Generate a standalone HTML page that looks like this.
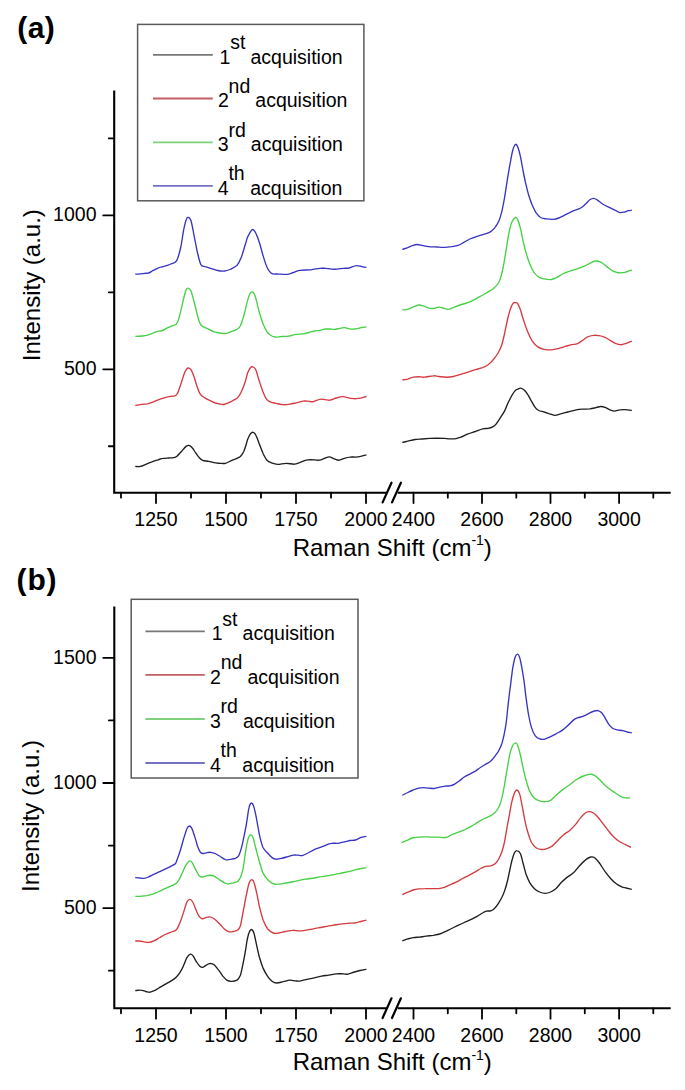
<!DOCTYPE html>
<html><head><meta charset="utf-8"><style>
html,body{margin:0;padding:0;background:#fff;width:685px;height:1090px;overflow:hidden}
svg{display:block;position:absolute;left:0;top:0}
text{font-family:"Liberation Sans",sans-serif}
</style></head><body>
<svg width="685" height="1090" viewBox="0 0 685 1090" font-family='"Liberation Sans", sans-serif' fill="#000">
<text x="17.2" y="37.8" font-size="30" font-weight="bold" letter-spacing="0.5">(a)</text>
<text x="16.6" y="590.3" font-size="30" font-weight="bold" letter-spacing="0.8">(b)</text>
<path d="M114.2 90.6V492.7H386.5M397.7 492.7H670.7" stroke="#000" stroke-width="2.1" fill="none"/>
<path d="M382.6 502.4L391.5 482.7M392.0 502.4L400.9 482.7" stroke="#000" stroke-width="2.2" stroke-linecap="round" fill="none"/>
<path d="M121.0 492.7V497.7M156.0 492.7V503.09999999999997M191.0 492.7V497.7M226.0 492.7V503.09999999999997M261.0 492.7V497.7M296.0 492.7V503.09999999999997M331.0 492.7V497.7M366.0 492.7V503.09999999999997M413.5 492.7V503.09999999999997M447.8 492.7V497.7M482.0 492.7V503.09999999999997M516.3 492.7V497.7M550.5 492.7V503.09999999999997M584.8 492.7V497.7M619.1 492.7V503.09999999999997M653.3 492.7V497.7M114.2 138.45H108.8M114.2 215.4H103.2M114.2 292.35H108.8M114.2 369.3H103.2M114.2 446.25H108.8" stroke="#000" stroke-width="1.8" stroke-linecap="round" fill="none"/>
<text x="156.0" y="525.5" text-anchor="middle" font-size="19.5">1250</text>
<text x="226.0" y="525.5" text-anchor="middle" font-size="19.5">1500</text>
<text x="296.0" y="525.5" text-anchor="middle" font-size="19.5">1750</text>
<text x="366.0" y="525.5" text-anchor="middle" font-size="19.5">2000</text>
<text x="413.5" y="525.5" text-anchor="middle" font-size="19.5">2400</text>
<text x="482.0" y="525.5" text-anchor="middle" font-size="19.5">2600</text>
<text x="550.5" y="525.5" text-anchor="middle" font-size="19.5">2800</text>
<text x="619.1" y="525.5" text-anchor="middle" font-size="19.5">3000</text>
<text x="96.5" y="221.20" text-anchor="end" font-size="19.5">1000</text>
<text x="96.5" y="375.10" text-anchor="end" font-size="19.5">500</text>
<text x="292.7" y="555.6" font-size="24">Raman Shift (cm<tspan font-size="14" dy="-10.5">-1</tspan><tspan dy="10.5">)</tspan></text>
<text transform="translate(40.3 285.2) rotate(-90)" text-anchor="middle" font-size="24">Intensity (a.u.)</text>
<rect x="137.6" y="24.4" width="226.29999999999998" height="176.4" fill="none" stroke="#5a5a5a" stroke-width="1.5"/>
<path d="M153 54.9H212.8" stroke="#777777" stroke-width="1.8"/>
<text x="219.6" y="63.7" font-size="19.5">1</text>
<text x="230.2" y="49.300000000000004" font-size="19.5">st</text>
<text x="250.5" y="63.7" font-size="19.5">acquisition</text>
<path d="M153 98.5H212.8" stroke="#c25e62" stroke-width="1.8"/>
<text x="218" y="107.3" font-size="19.5">2</text>
<text x="228.6" y="92.89999999999999" font-size="19.5">nd</text>
<text x="255.3" y="107.3" font-size="19.5">acquisition</text>
<path d="M153 142.4H212.8" stroke="#7ed27e" stroke-width="1.8"/>
<text x="217.8" y="151.20000000000002" font-size="19.5">3</text>
<text x="228.4" y="136.8" font-size="19.5">rd</text>
<text x="250.8" y="151.20000000000002" font-size="19.5">acquisition</text>
<path d="M153 185.9H212.8" stroke="#7470c4" stroke-width="1.8"/>
<text x="217.8" y="194.70000000000002" font-size="19.5">4</text>
<text x="228.4" y="180.3" font-size="19.5">th</text>
<text x="250.2" y="194.70000000000002" font-size="19.5">acquisition</text>
<path d="M135.26 274.20C136.1 274.1 138.3 274.1 140.5 273.8C142.7 273.6 146.4 273.5 148.4 273.0C150.4 272.4 151.2 271.5 152.8 270.7C154.4 269.9 156.1 268.8 158.0 268.1C159.9 267.3 162.3 266.9 164.2 266.3C166.1 265.7 167.7 265.2 169.4 264.6C171.2 263.9 173.4 263.3 174.7 262.5C176.0 261.6 176.3 261.9 177.3 259.3C178.3 256.7 179.8 251.7 180.8 247.0C181.8 242.4 182.6 235.8 183.4 231.3C184.3 226.8 185.2 222.2 186.1 219.9C186.9 217.6 187.5 217.1 188.3 217.3C189.2 217.4 190.0 217.8 191.0 220.8C191.9 223.7 192.9 229.5 193.9 234.8C195.0 240.0 196.3 247.3 197.4 252.3C198.6 257.3 199.6 262.2 200.9 264.6C202.3 267.0 203.4 265.9 205.3 266.7C207.2 267.4 210.3 268.3 212.3 268.9C214.4 269.6 215.5 270.2 217.6 270.5C219.6 270.9 222.6 271.2 224.6 271.0C226.6 270.9 227.8 270.4 229.9 269.5C231.9 268.5 235.0 267.4 236.9 265.4C238.8 263.5 239.8 261.2 241.2 257.6C242.7 253.9 244.5 247.0 245.6 243.5C246.7 240.1 246.6 239.3 247.7 236.9C248.9 234.6 250.9 230.2 252.3 229.6C253.7 229.0 254.7 231.0 255.9 233.3C257.2 235.6 258.4 239.5 259.6 243.3C260.8 247.1 262.0 252.1 263.2 256.1C264.5 260.0 265.5 264.2 266.9 267.0C268.3 269.9 269.6 272.3 271.5 273.4C273.3 274.6 275.1 273.8 277.8 274.0C280.6 274.1 285.3 274.6 287.9 274.3C290.5 274.1 291.4 273.2 293.4 272.5C295.3 271.8 296.9 270.8 299.7 270.3C302.6 269.9 307.3 270.1 310.7 269.8C314.0 269.4 317.4 268.6 319.8 268.3C322.3 268.1 322.9 268.2 325.3 268.3C327.7 268.5 331.4 269.2 334.4 269.2C337.5 269.2 341.1 268.5 343.5 268.3C346.0 268.1 346.9 268.4 349.0 268.0C351.1 267.5 354.2 265.8 356.3 265.6C358.4 265.4 360.1 266.4 361.8 266.7C363.5 267.0 365.6 267.3 366.4 267.4" stroke="#3834c2" stroke-width="1.35" fill="none" stroke-linejoin="round"/>
<path d="M135.26 336.31C136.4 336.3 140.2 336.2 142.3 336.0C144.3 335.8 145.8 335.6 147.5 335.1C149.3 334.6 151.2 333.8 152.8 333.2C154.4 332.5 155.5 331.8 157.2 331.4C158.8 331.0 160.8 331.1 162.4 330.5C164.0 330.0 165.2 328.9 166.8 328.1C168.4 327.3 170.5 326.4 172.0 325.8C173.6 325.2 174.9 325.3 175.9 324.4C176.9 323.5 177.4 322.8 178.2 320.5C179.0 318.3 179.9 314.4 180.8 310.9C181.7 307.4 182.6 303.0 183.4 299.5C184.3 296.0 185.2 291.8 186.1 289.9C186.9 288.0 187.5 287.9 188.3 288.1C189.2 288.3 190.0 288.9 191.0 291.1C191.9 293.3 193.0 297.8 193.9 301.3C194.9 304.7 195.7 308.4 196.6 311.8C197.4 315.1 198.3 319.1 199.2 321.4C200.1 323.8 200.5 324.6 201.8 325.8C203.1 327.0 205.0 327.4 207.1 328.4C209.1 329.5 211.8 331.1 214.1 331.9C216.4 332.7 219.1 332.9 221.1 333.2C223.1 333.4 224.6 333.6 226.4 333.3C228.1 333.0 229.9 332.1 231.6 331.4C233.4 330.7 235.4 330.2 236.9 329.3C238.3 328.4 239.2 328.1 240.4 325.8C241.5 323.5 242.7 319.5 243.9 315.3C245.1 311.1 246.5 304.1 247.6 300.4C248.6 296.8 249.3 294.7 250.1 293.2C250.9 291.8 251.6 291.8 252.3 292.0C253.0 292.1 253.7 292.4 254.5 294.2C255.2 295.9 256.0 299.2 256.9 302.4C257.7 305.6 258.5 309.7 259.6 313.3C260.7 317.0 262.0 321.2 263.2 324.3C264.5 327.3 265.7 329.7 266.9 331.6C268.1 333.4 269.2 334.3 270.5 335.2C271.9 336.1 273.3 336.8 275.1 337.0C276.9 337.3 279.2 336.6 281.5 336.5C283.8 336.3 286.4 336.5 288.8 336.1C291.2 335.8 293.7 334.7 296.1 334.3C298.5 333.9 301.3 334.2 303.4 333.9C305.5 333.6 307.0 333.0 308.9 332.5C310.7 332.0 312.5 331.4 314.3 331.0C316.2 330.7 318.0 330.6 319.8 330.3C321.6 330.0 323.6 329.3 325.3 329.0C327.0 328.8 328.3 328.8 329.9 328.8C331.4 328.9 332.7 329.5 334.4 329.4C336.1 329.3 338.2 328.6 339.9 328.3C341.6 328.0 342.9 327.6 344.5 327.7C346.0 327.8 347.3 328.6 349.0 328.8C350.7 329.0 352.7 329.2 354.5 329.0C356.3 328.9 358.0 328.3 360.0 327.9C361.9 327.6 365.3 327.0 366.4 326.8" stroke="#46d046" stroke-width="1.35" fill="none" stroke-linejoin="round"/>
<path d="M135.26 405.53C136.3 405.3 139.3 404.6 141.4 404.3C143.4 404.0 145.6 404.1 147.5 403.8C149.4 403.4 150.9 402.9 152.8 402.2C154.7 401.5 156.9 400.3 158.9 399.6C160.9 398.8 163.1 398.2 165.0 397.6C166.9 397.1 168.7 396.7 170.3 396.4C171.9 396.1 173.5 396.3 174.7 395.9C175.8 395.5 176.3 395.8 177.3 393.8C178.3 391.8 179.6 387.5 180.8 384.2C182.0 380.8 183.3 376.2 184.3 373.6C185.3 371.1 186.2 369.7 186.9 368.7C187.7 367.8 188.0 367.9 188.7 368.0C189.4 368.2 190.1 368.2 191.0 369.6C191.8 371.0 193.0 373.7 193.9 376.3C194.9 378.8 195.5 382.1 196.6 385.0C197.6 388.0 198.8 391.7 200.1 393.8C201.4 395.9 202.7 396.5 204.5 397.6C206.2 398.8 208.5 399.8 210.6 400.8C212.6 401.8 214.7 402.8 216.7 403.4C218.8 404.0 221.1 404.5 222.8 404.5C224.6 404.5 225.6 404.0 227.2 403.4C228.8 402.8 230.7 401.8 232.5 400.8C234.2 399.8 236.3 399.1 237.7 397.6C239.2 396.2 240.1 394.4 241.2 392.0C242.4 389.6 243.7 386.5 244.7 383.3C245.8 380.1 246.8 375.4 247.7 372.8C248.7 370.2 249.6 368.7 250.5 367.7C251.4 366.7 252.3 366.6 253.2 367.0C254.1 367.4 255.0 368.0 255.9 370.1C256.9 372.1 257.6 375.9 258.7 379.2C259.8 382.5 261.1 387.0 262.3 390.1C263.6 393.3 264.8 396.4 266.0 398.4C267.2 400.3 268.0 400.8 269.6 401.6C271.3 402.5 273.7 402.8 276.0 403.3C278.3 403.8 281.0 404.6 283.3 404.7C285.6 404.9 287.6 404.5 289.7 404.2C291.8 403.9 293.8 403.4 296.1 402.9C298.4 402.4 301.3 401.4 303.4 401.1C305.5 400.8 307.2 401.2 308.9 401.3C310.5 401.4 311.6 402.0 313.4 401.6C315.3 401.3 317.8 399.6 319.8 399.3C321.8 398.9 323.6 399.5 325.3 399.6C327.0 399.8 328.0 400.5 329.9 400.2C331.7 399.9 334.3 398.6 336.2 398.0C338.2 397.4 340.2 396.9 341.7 396.7C343.2 396.6 343.8 396.8 345.4 397.1C346.9 397.4 349.0 398.1 350.8 398.4C352.7 398.6 354.5 398.8 356.3 398.7C358.1 398.6 360.1 398.2 361.8 397.8C363.5 397.4 365.6 396.7 366.4 396.5" stroke="#d43a40" stroke-width="1.35" fill="none" stroke-linejoin="round"/>
<path d="M135.26 466.41C136.1 466.4 138.8 466.8 140.5 466.4C142.3 466.1 143.9 465.1 145.8 464.3C147.7 463.5 149.9 462.6 151.9 461.9C153.9 461.1 156.1 460.3 158.0 459.8C159.9 459.2 161.5 458.6 163.3 458.4C165.0 458.1 166.8 458.1 168.5 458.0C170.3 457.9 172.3 458.0 173.8 457.6C175.3 457.3 176.0 457.0 177.3 455.9C178.6 454.8 180.2 452.7 181.7 451.2C183.1 449.6 184.8 447.4 186.1 446.4C187.3 445.5 188.0 445.2 189.0 445.4C190.1 445.6 191.1 446.4 192.2 447.7C193.3 448.9 194.5 451.3 195.7 452.9C196.9 454.6 198.0 456.4 199.2 457.6C200.4 458.9 201.1 459.7 202.7 460.3C204.3 460.9 206.6 460.9 208.8 461.3C211.0 461.8 213.8 462.6 215.8 462.9C217.9 463.3 219.5 463.4 221.1 463.4C222.7 463.5 224.0 463.6 225.5 463.3C226.9 462.9 228.2 462.0 229.9 461.3C231.5 460.6 233.4 459.9 235.1 459.1C236.9 458.2 238.9 457.7 240.4 456.4C241.8 455.1 242.8 453.4 243.9 451.2C244.9 449.0 245.9 445.3 246.5 443.3C247.1 441.3 247.1 440.8 247.7 439.2C248.4 437.6 249.6 434.9 250.5 433.7C251.4 432.6 252.3 432.0 253.2 432.3C254.1 432.5 254.9 433.1 255.9 435.2C257.0 437.3 258.4 441.6 259.6 444.7C260.8 447.8 262.0 451.2 263.2 453.8C264.5 456.4 265.5 458.7 266.9 460.2C268.3 461.7 269.6 462.2 271.5 462.9C273.3 463.6 275.4 464.3 277.8 464.4C280.3 464.4 283.3 463.3 286.1 463.3C288.8 463.3 292.0 464.3 294.3 464.2C296.6 464.1 297.9 463.2 299.7 462.6C301.6 461.9 303.4 460.9 305.2 460.4C307.0 459.9 308.6 459.7 310.7 459.6C312.8 459.6 316.2 460.2 318.0 460.2C319.8 460.2 319.8 460.2 321.6 459.6C323.5 459.1 326.8 457.0 328.9 456.9C331.1 456.8 332.7 458.4 334.4 458.9C336.1 459.5 337.3 460.3 339.0 460.2C340.7 460.1 342.6 458.9 344.5 458.4C346.3 457.8 347.6 457.3 349.9 457.1C352.2 456.8 355.4 457.3 358.1 456.9C360.9 456.5 365.0 455.2 366.4 454.9" stroke="#1e1e1e" stroke-width="1.35" fill="none" stroke-linejoin="round"/>
<path d="M402.30 249.42C403.2 249.1 406.1 248.2 407.8 247.6C409.4 247.0 410.8 246.1 412.3 245.6C413.9 245.1 415.2 244.5 416.9 244.5C418.6 244.5 420.4 245.0 422.4 245.4C424.3 245.8 426.3 246.4 428.8 246.7C431.2 247.0 434.4 246.9 437.0 247.0C439.6 247.2 441.8 247.5 444.3 247.4C446.7 247.3 449.3 247.0 451.6 246.7C453.9 246.3 456.0 246.1 458.0 245.4C459.9 244.7 461.5 243.7 463.4 242.7C465.4 241.6 467.5 240.1 469.8 239.0C472.1 238.0 474.7 237.1 477.1 236.3C479.5 235.5 482.3 234.8 484.4 234.1C486.5 233.4 488.2 233.1 489.9 232.1C491.6 231.1 492.9 230.0 494.5 228.1C496.0 226.2 497.8 223.5 499.0 220.8C500.2 218.0 500.8 215.4 501.8 211.6C502.7 207.8 503.6 203.1 504.5 198.0C505.4 192.8 506.3 186.2 507.2 180.6C508.1 175.0 509.1 169.2 510.0 164.2C510.9 159.2 511.8 153.8 512.7 150.5C513.6 147.2 514.6 145.1 515.4 144.5C516.3 143.9 516.9 144.8 517.7 146.9C518.6 148.9 519.6 152.8 520.5 156.9C521.4 161.0 522.3 166.9 523.2 171.5C524.1 176.1 525.0 180.3 525.9 184.3C526.9 188.2 527.6 191.7 528.7 195.2C529.8 198.7 531.1 202.4 532.3 205.3C533.6 208.1 534.6 210.5 536.0 212.6C537.4 214.6 538.9 216.4 540.5 217.5C542.2 218.5 543.9 218.6 546.0 218.9C548.2 219.2 551.2 219.5 553.3 219.3C555.5 219.2 557.0 218.7 558.8 218.0C560.6 217.4 562.4 216.2 564.3 215.3C566.1 214.4 567.9 213.4 569.7 212.6C571.6 211.7 573.4 210.9 575.2 210.2C577.0 209.4 579.0 209.0 580.7 208.0C582.4 207.0 583.7 205.7 585.3 204.3C586.8 203.0 588.4 200.8 589.8 199.8C591.2 198.8 592.3 198.3 593.5 198.3C594.7 198.3 595.6 198.8 597.1 199.8C598.6 200.7 600.5 202.7 602.6 204.0C604.7 205.3 607.8 206.6 609.9 207.6C612.0 208.7 613.7 209.5 615.4 210.4C617.0 211.2 618.4 212.3 619.9 212.6C621.4 212.8 623.1 212.3 624.5 212.0C625.9 211.7 626.9 211.0 628.1 210.7C629.4 210.4 631.2 210.3 631.8 210.2" stroke="#3834c2" stroke-width="1.35" fill="none" stroke-linejoin="round"/>
<path d="M402.30 309.93C403.2 309.8 405.9 309.9 407.8 309.4C409.6 308.9 411.4 307.6 413.2 306.8C415.1 306.1 417.0 305.2 418.7 305.0C420.4 304.8 421.6 305.4 423.3 305.9C425.0 306.4 427.1 307.7 428.8 308.1C430.4 308.5 431.6 308.6 433.3 308.5C435.0 308.3 437.1 307.3 438.8 307.2C440.5 307.1 441.8 307.7 443.4 308.1C444.9 308.5 446.2 309.5 447.9 309.4C449.6 309.3 451.4 308.3 453.4 307.6C455.4 306.8 457.8 305.7 459.8 305.0C461.8 304.3 463.3 304.2 465.3 303.5C467.2 302.9 469.4 302.2 471.6 301.2C473.9 300.1 476.5 298.5 478.9 297.2C481.4 295.8 483.8 294.4 486.2 293.0C488.7 291.5 491.6 290.0 493.5 288.4C495.5 286.8 496.9 285.4 498.1 283.5C499.3 281.6 499.9 280.1 500.8 277.1C501.8 274.0 502.7 269.9 503.6 265.2C504.5 260.5 505.4 254.3 506.3 248.8C507.2 243.3 508.1 236.8 509.1 232.4C510.0 228.0 510.7 224.8 511.8 222.3C512.9 219.8 514.4 217.9 515.4 217.4C516.4 217.0 516.9 217.7 517.7 219.6C518.6 221.5 519.6 225.1 520.5 228.7C521.4 232.4 522.3 237.5 523.2 241.5C524.1 245.5 524.9 248.8 525.9 252.4C527.0 256.1 528.2 260.0 529.6 263.4C531.0 266.7 532.6 270.2 534.2 272.5C535.7 274.8 537.0 276.0 538.7 277.1C540.4 278.1 542.1 278.5 544.2 278.9C546.3 279.3 549.4 279.7 551.5 279.5C553.6 279.2 555.1 278.4 557.0 277.4C558.8 276.5 560.3 275.0 562.4 274.0C564.6 272.9 567.3 271.9 569.7 271.1C572.2 270.2 574.6 269.7 577.0 268.9C579.5 268.0 582.2 267.0 584.3 266.1C586.5 265.2 588.0 264.2 589.8 263.4C591.6 262.5 593.5 261.2 595.3 261.0C597.1 260.8 598.9 261.3 600.8 262.1C602.6 263.0 604.4 264.8 606.2 266.1C608.1 267.5 609.9 269.3 611.7 270.3C613.5 271.4 615.4 272.1 617.2 272.5C619.0 272.9 621.0 272.9 622.7 272.7C624.3 272.5 625.7 272.1 627.2 271.6C628.7 271.1 631.0 270.1 631.8 269.8" stroke="#46d046" stroke-width="1.35" fill="none" stroke-linejoin="round"/>
<path d="M402.30 379.96C403.2 379.8 405.9 379.5 407.8 379.1C409.6 378.6 411.4 377.6 413.2 377.2C415.1 376.8 416.9 376.7 418.7 376.7C420.5 376.7 421.8 377.4 424.2 377.2C426.6 377.1 430.9 375.9 433.3 375.8C435.8 375.6 436.7 376.3 438.8 376.5C440.9 376.7 443.7 377.2 446.1 377.2C448.5 377.2 451.0 377.0 453.4 376.5C455.8 376.0 458.3 375.0 460.7 374.3C463.1 373.6 465.6 372.9 468.0 372.1C470.4 371.4 472.9 370.5 475.3 369.7C477.7 369.0 480.5 368.4 482.6 367.6C484.7 366.7 486.2 366.2 488.1 364.8C489.9 363.4 491.9 361.3 493.5 359.3C495.2 357.4 496.7 355.4 498.1 353.0C499.5 350.5 500.7 347.9 501.8 344.7C502.8 341.6 503.6 337.7 504.5 333.8C505.4 329.8 506.3 325.0 507.2 321.0C508.1 317.1 509.0 313.1 510.0 310.1C511.0 307.1 512.2 304.4 513.2 303.1C514.3 301.9 515.6 302.7 516.4 302.8C517.1 302.9 517.0 302.5 517.7 303.7C518.4 304.9 519.4 307.0 520.5 310.1C521.5 313.1 522.9 318.3 524.1 321.9C525.3 325.6 526.4 328.8 527.8 332.0C529.1 335.2 530.7 338.6 532.3 341.1C534.0 343.6 535.8 345.6 537.8 346.9C539.8 348.3 541.9 348.8 544.2 349.3C546.5 349.8 549.1 350.0 551.5 349.9C553.9 349.7 556.4 349.0 558.8 348.4C561.2 347.8 564.0 346.8 566.1 346.2C568.2 345.6 569.7 345.1 571.6 344.7C573.4 344.3 575.4 344.4 577.0 343.8C578.7 343.2 579.9 342.2 581.6 341.1C583.3 340.0 585.1 338.1 587.1 337.1C589.1 336.1 591.5 335.5 593.5 335.3C595.4 335.0 597.1 335.3 598.9 335.6C600.8 335.9 602.6 336.3 604.4 337.1C606.2 337.8 608.1 339.1 609.9 340.2C611.7 341.2 613.5 342.5 615.4 343.3C617.2 344.0 619.0 344.7 620.8 344.7C622.7 344.7 624.5 343.9 626.3 343.3C628.1 342.7 630.9 341.5 631.8 341.1" stroke="#d43a40" stroke-width="1.35" fill="none" stroke-linejoin="round"/>
<path d="M402.30 442.45C403.2 442.2 405.6 441.7 407.8 441.2C409.9 440.7 412.6 439.9 415.1 439.5C417.5 439.2 419.9 439.2 422.4 439.0C424.8 438.8 427.2 438.6 429.7 438.4C432.1 438.3 434.5 438.2 437.0 438.2C439.4 438.2 442.1 438.3 444.3 438.4C446.4 438.5 447.8 438.8 449.7 438.8C451.7 438.8 454.3 438.9 456.1 438.6C458.0 438.3 458.7 437.9 460.7 437.2C462.7 436.4 465.6 434.8 468.0 433.9C470.4 432.9 472.9 432.3 475.3 431.5C477.7 430.6 480.5 429.3 482.6 428.8C484.7 428.2 486.4 428.7 488.1 428.4C489.7 428.1 491.3 427.7 492.6 426.9C494.0 426.2 495.1 425.3 496.3 423.8C497.5 422.4 498.6 420.5 499.9 418.4C501.3 416.2 503.1 413.6 504.5 411.1C505.9 408.5 506.9 405.4 508.1 402.8C509.4 400.3 510.6 397.6 511.8 395.5C513.0 393.5 514.4 391.5 515.4 390.4C516.4 389.4 516.9 389.5 517.7 389.2C518.6 388.8 519.4 388.1 520.5 388.2C521.5 388.4 522.9 389.0 524.1 390.1C525.3 391.1 526.6 392.8 527.8 394.6C529.0 396.5 530.2 398.9 531.4 401.0C532.6 403.2 533.9 405.8 535.1 407.4C536.3 409.0 537.2 409.8 538.7 410.5C540.2 411.3 542.4 411.4 544.2 412.0C546.0 412.5 547.8 413.2 549.7 413.8C551.5 414.3 553.3 415.3 555.1 415.3C557.0 415.3 558.5 414.3 560.6 413.8C562.7 413.2 565.5 412.6 567.9 412.0C570.4 411.4 572.8 410.6 575.2 410.1C577.7 409.7 580.1 409.4 582.5 409.2C585.0 409.0 587.7 409.1 589.8 408.9C591.9 408.6 593.5 408.2 595.3 407.8C597.1 407.4 599.1 406.6 600.8 406.5C602.4 406.4 603.8 406.9 605.3 407.4C606.8 408.0 608.4 409.2 609.9 409.8C611.4 410.4 612.8 411.1 614.5 411.1C616.1 411.1 618.1 410.0 619.9 409.8C621.8 409.5 623.4 409.5 625.4 409.6C627.4 409.7 630.7 410.4 631.8 410.5" stroke="#1e1e1e" stroke-width="1.35" fill="none" stroke-linejoin="round"/>
<path d="M114.3 606.4V1008.3H386.5M397.7 1008.3H670.7" stroke="#000" stroke-width="2.1" fill="none"/>
<path d="M382.6 1018.0L391.5 998.3M392.0 1018.0L400.9 998.3" stroke="#000" stroke-width="2.2" stroke-linecap="round" fill="none"/>
<path d="M121.0 1008.3V1013.3M156.0 1008.3V1018.6999999999999M191.0 1008.3V1013.3M226.0 1008.3V1018.6999999999999M261.0 1008.3V1013.3M296.0 1008.3V1018.6999999999999M331.0 1008.3V1013.3M366.0 1008.3V1018.6999999999999M413.5 1008.3V1018.6999999999999M447.8 1008.3V1013.3M482.0 1008.3V1018.6999999999999M516.3 1008.3V1013.3M550.5 1008.3V1018.6999999999999M584.8 1008.3V1013.3M619.1 1008.3V1018.6999999999999M653.3 1008.3V1013.3M114.3 657.9H103.3M114.3 720.45H108.89999999999999M114.3 783H103.3M114.3 845.55H108.89999999999999M114.3 908.1H103.3M114.3 970.65H108.89999999999999" stroke="#000" stroke-width="1.8" stroke-linecap="round" fill="none"/>
<text x="156.0" y="1041.5" text-anchor="middle" font-size="19.5">1250</text>
<text x="226.0" y="1041.5" text-anchor="middle" font-size="19.5">1500</text>
<text x="296.0" y="1041.5" text-anchor="middle" font-size="19.5">1750</text>
<text x="366.0" y="1041.5" text-anchor="middle" font-size="19.5">2000</text>
<text x="413.5" y="1041.5" text-anchor="middle" font-size="19.5">2400</text>
<text x="482.0" y="1041.5" text-anchor="middle" font-size="19.5">2600</text>
<text x="550.5" y="1041.5" text-anchor="middle" font-size="19.5">2800</text>
<text x="619.1" y="1041.5" text-anchor="middle" font-size="19.5">3000</text>
<text x="96.5" y="663.70" text-anchor="end" font-size="19.5">1500</text>
<text x="96.5" y="788.80" text-anchor="end" font-size="19.5">1000</text>
<text x="96.5" y="913.90" text-anchor="end" font-size="19.5">500</text>
<text x="292.7" y="1070.1" font-size="24">Raman Shift (cm<tspan font-size="14" dy="-10.5">-1</tspan><tspan dy="10.5">)</tspan></text>
<text transform="translate(38.8 816) rotate(-90)" text-anchor="middle" font-size="24">Intensity (a.u.)</text>
<rect x="131.2" y="599.3" width="226.8" height="178.70000000000005" fill="none" stroke="#5a5a5a" stroke-width="1.5"/>
<path d="M145.4 631.3H204.8" stroke="#777777" stroke-width="1.8"/>
<text x="211.7" y="640.0999999999999" font-size="19.5">1</text>
<text x="222.3" y="625.6999999999999" font-size="19.5">st</text>
<text x="242.6" y="640.0999999999999" font-size="19.5">acquisition</text>
<path d="M145.4 674.9H204.8" stroke="#c25e62" stroke-width="1.8"/>
<text x="210.1" y="683.6999999999999" font-size="19.5">2</text>
<text x="220.7" y="669.3" font-size="19.5">nd</text>
<text x="247.4" y="683.6999999999999" font-size="19.5">acquisition</text>
<path d="M145.4 719.0H204.8" stroke="#7ed27e" stroke-width="1.8"/>
<text x="209.9" y="727.8" font-size="19.5">3</text>
<text x="220.5" y="713.4" font-size="19.5">rd</text>
<text x="242.9" y="727.8" font-size="19.5">acquisition</text>
<path d="M145.4 763.0H204.8" stroke="#7470c4" stroke-width="1.8"/>
<text x="209.9" y="771.8" font-size="19.5">4</text>
<text x="220.5" y="757.4" font-size="19.5">th</text>
<text x="242.3" y="771.8" font-size="19.5">acquisition</text>
<path d="M135.26 877.52C136.0 877.6 138.2 877.9 139.6 878.0C141.1 878.2 142.6 878.6 144.0 878.4C145.5 878.2 146.8 877.7 148.4 877.0C150.0 876.3 151.9 875.2 153.6 874.4C155.4 873.5 157.0 872.8 158.9 871.9C160.8 871.0 163.0 870.1 165.0 869.1C167.1 868.1 169.5 867.0 171.2 866.1C172.9 865.3 174.3 864.6 175.2 863.9C176.1 863.1 175.6 863.4 176.4 861.4C177.2 859.4 178.8 855.4 179.9 851.8C181.1 848.1 182.3 843.4 183.4 839.5C184.6 835.7 186.0 830.9 186.9 828.7C187.9 826.4 188.4 826.1 189.2 826.0C190.0 825.9 190.7 826.3 191.7 828.1C192.6 829.9 193.9 834.0 194.8 836.9C195.8 839.8 196.6 843.2 197.4 845.7C198.3 848.1 199.2 850.5 200.1 851.8C200.9 853.1 201.5 853.4 202.7 853.5C203.9 853.7 205.8 852.9 207.1 852.7C208.4 852.5 209.3 852.2 210.6 852.3C211.9 852.5 213.4 852.8 215.0 853.5C216.6 854.2 218.5 855.5 220.2 856.5C222.0 857.5 223.9 859.2 225.5 859.7C227.1 860.1 228.3 859.5 229.9 859.3C231.6 859.0 234.0 858.9 235.5 858.3C236.9 857.7 237.7 857.5 238.7 855.7C239.7 854.0 240.5 851.0 241.5 847.6C242.4 844.2 243.4 839.4 244.2 835.3C245.1 831.2 245.9 827.5 246.6 822.9C247.4 818.3 248.2 811.0 249.0 807.7C249.7 804.4 250.4 803.4 251.2 803.1C251.9 802.7 252.6 803.8 253.4 805.5C254.1 807.3 254.8 810.3 255.5 813.6C256.3 816.9 257.0 821.4 257.7 825.3C258.5 829.1 259.0 833.2 259.9 836.9C260.8 840.6 261.7 844.8 263.0 847.5C264.4 850.2 266.3 851.6 267.8 853.3C269.4 855.1 271.0 856.9 272.4 857.9C273.7 858.9 274.5 859.1 276.0 859.2C277.5 859.3 279.5 858.9 281.5 858.4C283.5 858.0 285.9 857.2 287.9 856.6C289.9 856.1 291.7 855.4 293.4 855.1C295.0 854.9 296.4 855.1 297.9 855.1C299.4 855.2 300.8 855.9 302.5 855.5C304.2 855.1 306.0 853.9 308.0 853.0C309.9 852.0 312.1 850.7 314.3 849.7C316.6 848.7 319.5 847.8 321.6 846.9C323.8 846.1 325.4 845.4 327.1 844.7C328.8 844.1 329.9 843.5 331.7 843.3C333.5 843.0 335.9 843.5 338.1 843.3C340.2 843.0 342.5 842.3 344.5 841.8C346.4 841.4 348.1 840.9 349.9 840.5C351.8 840.2 353.6 840.5 355.4 840.0C357.2 839.5 359.1 838.1 360.9 837.4C362.7 836.8 365.4 836.5 366.4 836.4" stroke="#3834c2" stroke-width="1.35" fill="none" stroke-linejoin="round"/>
<path d="M135.26 896.44C136.1 896.4 138.6 896.4 140.5 896.3C142.4 896.1 144.6 895.9 146.6 895.6C148.7 895.2 150.7 894.8 152.8 894.2C154.8 893.5 156.9 892.5 158.9 891.5C160.9 890.6 163.0 889.5 165.0 888.6C167.1 887.6 169.4 886.7 171.2 885.9C173.0 885.1 174.6 884.7 175.9 883.6C177.2 882.6 177.9 881.5 179.1 879.6C180.2 877.7 181.4 874.7 182.6 872.3C183.7 869.8 184.9 866.8 186.1 864.9C187.2 863.0 188.5 861.3 189.6 860.9C190.6 860.5 191.2 861.2 192.2 862.6C193.2 864.1 194.5 867.4 195.7 869.6C196.9 871.8 198.2 874.5 199.2 875.8C200.2 877.0 200.8 876.9 201.8 877.0C202.8 877.1 204.0 876.4 205.3 876.1C206.6 875.8 208.2 875.2 209.7 875.2C211.2 875.2 212.5 875.4 214.1 876.1C215.7 876.8 217.6 878.5 219.3 879.6C221.1 880.7 223.1 882.0 224.6 882.8C226.1 883.5 226.6 884.0 228.1 884.0C229.6 884.0 231.8 883.2 233.4 882.8C235.0 882.3 236.6 882.2 237.7 881.4C238.9 880.5 239.5 879.6 240.4 877.5C241.2 875.4 242.1 873.3 243.0 868.8C243.9 864.2 245.0 855.2 245.8 850.2C246.7 845.2 247.4 841.1 248.2 838.5C249.1 835.9 249.9 834.9 250.7 834.7C251.5 834.6 252.3 835.8 253.1 837.7C253.8 839.5 254.6 843.8 255.1 845.7C255.6 847.5 255.2 846.0 255.9 848.8C256.7 851.6 258.4 858.3 259.6 862.4C260.8 866.6 261.9 870.5 263.2 873.4C264.6 876.3 266.3 878.1 267.8 879.8C269.3 881.5 271.0 882.7 272.4 883.4C273.7 884.2 274.5 884.3 276.0 884.3C277.5 884.4 279.4 884.1 281.5 883.8C283.6 883.5 286.4 883.0 288.8 882.5C291.2 882.1 293.4 881.6 296.1 881.1C298.8 880.5 302.2 879.8 305.2 879.2C308.3 878.7 311.6 878.4 314.3 878.0C317.1 877.5 318.9 877.1 321.6 876.7C324.4 876.2 327.7 875.8 330.8 875.2C333.8 874.7 337.2 873.9 339.9 873.4C342.6 872.8 344.8 872.5 347.2 871.9C349.6 871.4 352.2 870.7 354.5 870.1C356.8 869.5 358.9 868.9 360.9 868.5C362.9 868.0 365.4 867.7 366.4 867.6" stroke="#46d046" stroke-width="1.35" fill="none" stroke-linejoin="round"/>
<path d="M135.26 941.02C136.0 941.0 138.2 940.9 139.6 941.0C141.1 941.2 142.4 941.7 144.0 941.9C145.6 942.1 147.5 942.6 149.3 942.4C151.0 942.2 152.8 941.5 154.5 940.7C156.3 939.9 158.0 938.5 159.8 937.5C161.5 936.5 163.3 935.4 165.0 934.5C166.8 933.7 168.7 932.9 170.3 932.3C171.9 931.6 173.5 931.5 174.7 930.9C175.8 930.2 176.3 930.1 177.3 928.3C178.3 926.6 179.6 923.5 180.8 920.4C182.0 917.4 183.3 913.0 184.3 909.9C185.3 906.9 186.0 903.8 186.9 902.0C187.9 900.3 188.9 899.4 189.9 899.4C190.9 899.4 191.8 900.4 192.7 902.0C193.7 903.6 194.7 906.8 195.7 909.1C196.7 911.3 197.6 914.1 198.7 915.7C199.7 917.3 200.7 918.3 201.8 918.7C202.9 919.0 204.0 918.1 205.3 917.8C206.6 917.5 208.2 916.8 209.7 916.9C211.2 917.1 212.5 917.6 214.1 918.7C215.7 919.8 217.6 921.7 219.3 923.4C221.1 925.2 223.0 927.8 224.6 929.2C226.2 930.6 227.5 931.4 229.0 931.8C230.4 932.2 231.9 931.8 233.4 931.5C234.8 931.2 236.6 931.0 237.7 930.1C238.9 929.1 239.5 928.6 240.4 925.7C241.2 922.8 242.1 917.1 243.0 912.6C243.9 908.0 244.9 902.1 245.6 898.5C246.3 895.0 246.8 893.1 247.2 891.0C247.6 889.0 247.9 887.8 248.2 886.3C248.6 884.8 249.0 883.0 249.6 881.9C250.1 880.8 251.0 879.6 251.8 879.7C252.5 879.9 253.3 880.5 254.1 882.8C255.0 885.2 255.9 889.7 256.9 893.8C257.8 897.9 258.5 903.0 259.6 907.4C260.7 911.9 261.9 916.6 263.2 920.2C264.6 923.8 266.1 926.8 267.8 929.0C269.5 931.1 271.5 932.3 273.3 933.0C275.1 933.7 276.8 933.2 278.8 933.0C280.7 932.7 282.9 932.0 285.1 931.5C287.4 931.1 290.3 930.4 292.4 930.3C294.6 930.1 296.1 930.7 297.9 930.8C299.7 930.9 301.3 930.9 303.4 930.6C305.5 930.4 308.3 929.8 310.7 929.3C313.1 928.9 315.6 928.3 318.0 927.9C320.4 927.4 322.9 927.0 325.3 926.6C327.7 926.2 330.2 925.7 332.6 925.3C335.0 924.9 337.5 924.6 339.9 924.2C342.3 923.9 344.8 923.5 347.2 923.3C349.6 923.1 352.2 923.3 354.5 923.0C356.8 922.7 358.9 922.0 360.9 921.5C362.9 921.0 365.4 920.4 366.4 920.2" stroke="#d43a40" stroke-width="1.35" fill="none" stroke-linejoin="round"/>
<path d="M135.26 990.60C136.1 990.5 138.8 989.9 140.5 990.1C142.3 990.2 144.2 991.1 145.8 991.5C147.4 991.8 148.5 992.4 150.1 992.2C151.8 991.9 153.6 990.9 155.4 990.1C157.2 989.2 158.8 988.0 160.7 986.9C162.6 985.8 164.9 984.5 166.8 983.4C168.7 982.3 170.4 981.5 172.0 980.4C173.6 979.4 175.1 978.2 176.4 976.9C177.7 975.6 178.8 974.4 179.9 972.6C181.1 970.7 182.3 968.4 183.4 965.9C184.6 963.4 185.8 959.6 186.9 957.7C188.1 955.7 189.4 954.5 190.4 954.2C191.5 953.9 192.0 954.6 193.1 955.9C194.1 957.2 195.4 960.3 196.6 962.0C197.7 963.8 199.1 965.5 200.1 966.4C201.1 967.3 201.5 967.6 202.7 967.3C203.9 967.0 205.8 965.3 207.1 964.7C208.4 964.0 209.4 963.4 210.6 963.4C211.8 963.5 212.8 963.8 214.1 964.8C215.4 965.9 217.0 968.1 218.5 969.9C219.9 971.8 221.4 974.3 222.8 976.1C224.3 977.8 225.8 979.6 227.2 980.4C228.7 981.3 230.0 981.4 231.6 981.3C233.2 981.3 235.4 981.1 236.9 980.1C238.3 979.1 239.3 977.9 240.4 975.2C241.4 972.5 242.1 968.0 243.0 963.8C243.9 959.6 245.0 953.4 245.6 949.8C246.3 946.1 246.5 943.9 246.8 941.9C247.2 939.9 247.4 939.0 247.7 937.5C248.1 936.0 248.4 934.1 249.0 932.8C249.6 931.4 250.6 929.5 251.4 929.5C252.2 929.5 252.9 930.4 253.8 932.8C254.6 935.1 255.4 939.8 256.3 943.7C257.2 947.7 258.1 952.4 259.2 956.5C260.4 960.6 261.8 965.0 263.2 968.4C264.7 971.7 266.3 974.4 267.8 976.6C269.3 978.8 270.9 980.4 272.4 981.5C273.9 982.6 275.1 982.9 276.9 983.0C278.8 983.0 281.2 982.1 283.3 981.7C285.5 981.2 287.7 980.4 289.7 980.2C291.7 980.1 293.5 980.6 295.2 980.8C296.9 980.9 297.8 981.4 299.7 981.1C301.7 980.9 304.6 979.9 307.0 979.3C309.5 978.8 311.9 978.4 314.3 977.8C316.8 977.3 319.2 976.7 321.6 976.2C324.1 975.7 326.5 975.5 328.9 975.1C331.4 974.7 333.8 974.0 336.2 973.8C338.7 973.6 341.6 973.8 343.5 973.8C345.5 973.9 346.3 974.5 348.1 974.2C349.9 973.9 352.5 972.6 354.5 972.0C356.5 971.4 358.0 971.0 360.0 970.5C361.9 970.1 365.3 969.5 366.4 969.3" stroke="#1e1e1e" stroke-width="1.35" fill="none" stroke-linejoin="round"/>
<path d="M402.30 795.26C403.2 794.8 405.9 793.4 407.8 792.5C409.6 791.6 411.4 790.7 413.2 790.0C415.1 789.2 417.0 788.5 418.7 788.1C420.4 787.7 421.6 787.6 423.3 787.6C425.0 787.6 426.9 788.0 428.8 788.1C430.6 788.3 432.4 788.7 434.2 788.5C436.1 788.4 437.9 787.6 439.7 787.2C441.5 786.8 443.5 786.4 445.2 786.1C446.9 785.9 448.2 786.1 449.7 785.8C451.3 785.5 452.8 785.1 454.3 784.3C455.8 783.5 457.2 782.4 458.9 781.2C460.5 780.0 462.5 778.2 464.3 777.0C466.2 775.8 468.0 775.1 469.8 774.1C471.6 773.1 473.5 772.3 475.3 771.2C477.1 770.0 478.9 768.4 480.8 767.2C482.6 765.9 484.6 764.9 486.2 763.9C487.9 762.9 489.3 762.5 490.8 761.1C492.3 759.8 494.0 757.5 495.4 755.7C496.7 753.8 498.0 752.2 499.0 750.2C500.1 748.2 500.9 746.4 501.8 743.8C502.6 741.2 503.4 738.3 504.1 734.7C504.9 731.0 505.6 727.5 506.3 721.9C507.0 716.3 507.7 707.7 508.5 701.3C509.2 695.0 509.9 689.4 510.7 683.8C511.4 678.2 512.1 672.1 512.8 667.7C513.6 663.4 514.3 659.8 515.0 657.5C515.8 655.3 516.5 654.3 517.2 654.2C518.0 654.0 518.7 654.8 519.4 656.8C520.1 658.8 520.9 662.5 521.6 666.3C522.3 670.0 523.0 674.1 523.8 679.4C524.6 684.7 525.3 692.2 526.1 698.2C527.0 704.2 527.8 710.7 528.7 715.5C529.6 720.4 530.4 724.1 531.4 727.4C532.5 730.8 533.7 733.7 535.1 735.6C536.4 737.5 538.1 738.3 539.6 738.9C541.2 739.5 542.5 739.6 544.2 739.3C545.9 739.0 547.7 738.0 549.7 737.1C551.6 736.2 553.9 735.0 556.1 733.8C558.2 732.6 560.5 731.5 562.4 730.1C564.4 728.8 566.1 727.3 567.9 725.6C569.7 723.9 571.7 721.4 573.4 720.1C575.1 718.8 576.3 718.4 578.0 717.7C579.6 717.1 581.6 716.8 583.4 716.1C585.3 715.4 587.1 714.2 588.9 713.4C590.7 712.5 592.9 711.4 594.4 711.0C595.9 710.5 596.8 710.3 598.0 710.6C599.2 710.9 600.5 711.5 601.7 712.8C602.9 714.1 604.1 716.3 605.3 718.3C606.5 720.3 607.8 723.0 609.0 724.7C610.2 726.3 611.3 727.5 612.6 728.3C614.0 729.2 615.5 729.4 617.2 729.8C618.9 730.2 621.0 730.3 622.7 730.7C624.3 731.1 625.7 731.6 627.2 732.0C628.7 732.3 631.0 732.7 631.8 732.9" stroke="#3834c2" stroke-width="1.35" fill="none" stroke-linejoin="round"/>
<path d="M401.39 842.59C402.3 842.2 405.0 841.2 406.9 840.4C408.7 839.6 410.4 838.6 412.3 838.0C414.3 837.5 416.6 837.3 418.7 837.1C420.9 836.9 423.0 836.8 425.1 836.8C427.2 836.8 429.4 837.1 431.5 837.1C433.6 837.2 435.9 837.0 437.9 837.1C439.9 837.2 441.7 837.7 443.4 837.7C445.0 837.6 446.2 837.4 447.9 836.8C449.6 836.1 451.4 834.9 453.4 834.0C455.4 833.2 457.8 832.4 459.8 831.6C461.8 830.9 463.3 830.4 465.3 829.5C467.2 828.5 469.5 827.4 471.6 826.2C473.8 825.0 475.9 823.4 478.0 822.2C480.2 820.9 482.4 819.5 484.4 818.5C486.4 817.5 488.2 817.0 489.9 816.1C491.6 815.2 493.1 814.3 494.5 813.0C495.8 811.8 497.0 810.3 498.1 808.5C499.2 806.6 500.0 804.8 500.8 802.1C501.7 799.3 502.5 795.8 503.2 792.0C504.0 788.2 504.7 783.5 505.4 779.3C506.1 775.0 506.8 770.8 507.6 766.5C508.4 762.2 509.1 757.2 510.0 753.7C510.8 750.2 511.7 747.3 512.7 745.5C513.7 743.7 515.1 742.8 516.0 742.8C516.8 742.8 517.0 743.4 517.7 745.5C518.5 747.6 519.6 751.7 520.5 755.5C521.4 759.3 522.2 764.1 523.2 768.3C524.2 772.6 525.2 777.3 526.3 781.1C527.4 784.9 528.3 788.3 529.6 791.1C530.9 793.9 532.5 796.3 534.2 797.9C535.8 799.5 537.8 800.2 539.6 800.8C541.5 801.4 543.3 801.8 545.1 801.7C546.9 801.6 548.8 801.3 550.6 800.3C552.4 799.2 554.1 797.1 556.1 795.3C558.0 793.6 560.2 791.6 562.4 789.9C564.7 788.1 567.3 786.5 569.7 784.7C572.2 783.0 574.8 780.7 577.0 779.3C579.3 777.8 581.3 776.8 583.4 776.0C585.6 775.2 588.0 774.5 589.8 774.3C591.6 774.2 592.9 774.5 594.4 775.3C595.9 776.0 597.3 777.3 598.9 778.9C600.6 780.5 602.6 783.0 604.4 784.7C606.2 786.5 608.1 787.9 609.9 789.3C611.7 790.7 613.5 791.7 615.4 793.0C617.2 794.2 619.2 795.8 620.8 796.6C622.5 797.4 623.9 797.7 625.4 797.9C626.9 798.1 629.2 797.9 630.0 797.9" stroke="#46d046" stroke-width="1.35" fill="none" stroke-linejoin="round"/>
<path d="M402.30 894.60C403.2 894.2 405.9 893.0 407.8 892.2C409.6 891.5 411.4 890.6 413.2 890.0C415.1 889.5 416.7 889.2 418.7 888.9C420.7 888.7 423.0 888.6 425.1 888.6C427.2 888.5 429.2 888.6 431.5 888.6C433.8 888.6 436.8 888.7 438.8 888.6C440.8 888.4 441.5 888.3 443.4 887.7C445.2 887.1 447.6 885.8 449.7 884.9C451.9 884.0 454.0 883.3 456.1 882.2C458.3 881.1 460.4 879.7 462.5 878.5C464.6 877.4 466.8 876.4 468.9 875.3C471.0 874.1 473.3 872.9 475.3 871.8C477.3 870.7 479.1 869.4 480.8 868.5C482.4 867.6 483.7 866.8 485.3 866.3C487.0 865.9 489.1 866.3 490.8 865.8C492.5 865.3 494.0 864.6 495.4 863.4C496.7 862.2 498.0 860.4 499.0 858.5C500.1 856.6 500.8 854.8 501.8 852.1C502.7 849.3 503.7 845.8 504.5 842.0C505.3 838.2 505.9 833.5 506.7 829.3C507.4 825.0 508.2 821.1 509.1 816.5C509.9 811.9 510.9 805.9 511.8 801.9C512.7 797.9 513.7 794.8 514.5 792.8C515.4 790.8 516.1 789.9 516.9 790.0C517.7 790.2 518.7 791.1 519.6 793.9C520.5 796.6 521.4 802.1 522.3 806.6C523.2 811.2 524.1 817.0 525.0 821.2C525.9 825.5 526.7 828.7 527.8 832.2C528.8 835.7 530.1 839.6 531.4 842.2C532.8 844.8 534.3 846.5 536.0 847.7C537.7 848.9 539.6 849.4 541.5 849.5C543.3 849.7 545.1 849.2 546.9 848.6C548.8 848.0 550.6 847.2 552.4 845.9C554.2 844.5 556.1 842.2 557.9 840.4C559.7 838.6 561.4 836.6 563.4 834.9C565.3 833.3 567.8 832.0 569.7 830.4C571.7 828.7 573.4 827.0 575.2 824.9C577.0 822.8 579.0 819.6 580.7 817.6C582.4 815.6 583.9 814.0 585.3 813.0C586.6 812.0 587.5 811.6 588.9 811.6C590.3 811.6 591.9 812.1 593.5 813.0C595.0 814.0 596.5 815.6 598.0 817.2C599.5 818.9 600.9 820.9 602.6 823.1C604.3 825.3 606.2 828.1 608.1 830.4C609.9 832.6 611.7 834.9 613.5 836.8C615.4 838.6 617.0 840.0 619.0 841.3C621.0 842.6 623.4 843.6 625.4 844.6C627.4 845.6 630.0 846.9 630.9 847.3" stroke="#d43a40" stroke-width="1.35" fill="none" stroke-linejoin="round"/>
<path d="M402.30 940.91C403.2 940.6 405.9 939.5 407.8 938.9C409.6 938.4 411.3 937.9 413.2 937.6C415.2 937.3 417.5 937.3 419.6 937.1C421.8 936.8 423.7 936.5 426.0 936.2C428.3 935.9 431.0 935.6 433.3 935.3C435.6 934.9 437.7 934.6 439.7 934.0C441.7 933.4 443.2 932.5 445.2 931.6C447.2 930.7 449.4 929.5 451.6 928.5C453.7 927.5 455.8 926.4 458.0 925.4C460.1 924.4 462.2 923.4 464.3 922.5C466.5 921.5 468.6 920.8 470.7 919.7C472.9 918.7 475.1 917.4 477.1 916.3C479.1 915.2 481.1 913.8 482.6 913.0C484.1 912.1 484.9 911.5 486.2 911.2C487.6 910.8 489.4 911.3 490.8 910.8C492.2 910.3 493.2 909.6 494.5 908.4C495.7 907.3 496.9 905.7 498.1 903.9C499.3 902.0 500.7 899.6 501.8 897.5C502.8 895.4 503.6 893.7 504.5 891.1C505.4 888.5 506.4 885.3 507.2 882.0C508.1 878.6 508.8 874.5 509.6 871.0C510.4 867.5 511.0 864.0 511.8 861.0C512.6 857.9 513.7 854.5 514.5 852.8C515.4 851.0 515.9 850.4 516.9 850.6C517.9 850.7 519.4 851.5 520.5 853.7C521.5 855.9 522.3 860.4 523.2 863.7C524.1 867.1 524.9 870.7 525.9 873.8C527.0 876.9 528.2 879.9 529.6 882.3C531.0 884.8 532.5 886.7 534.2 888.4C535.8 890.0 537.8 891.2 539.6 892.0C541.5 892.8 543.3 893.3 545.1 893.3C546.9 893.3 548.8 892.8 550.6 892.0C552.4 891.2 554.2 890.0 556.1 888.4C557.9 886.7 559.7 884.2 561.5 882.3C563.4 880.5 565.0 879.0 567.0 877.4C569.0 875.8 571.4 874.7 573.4 872.8C575.4 871.0 576.9 868.6 578.9 866.5C580.8 864.3 583.3 861.7 585.3 860.1C587.2 858.5 589.1 857.3 590.7 857.0C592.4 856.7 593.8 857.1 595.3 858.2C596.8 859.4 598.2 861.4 599.9 863.7C601.5 866.0 603.5 869.4 605.3 871.9C607.2 874.4 609.0 876.7 610.8 878.7C612.6 880.7 614.5 882.4 616.3 883.8C618.1 885.2 620.1 886.2 621.8 886.9C623.4 887.6 624.6 887.6 626.3 888.0C628.0 888.4 630.9 889.1 631.8 889.3" stroke="#1e1e1e" stroke-width="1.35" fill="none" stroke-linejoin="round"/>
</svg>
</body></html>
